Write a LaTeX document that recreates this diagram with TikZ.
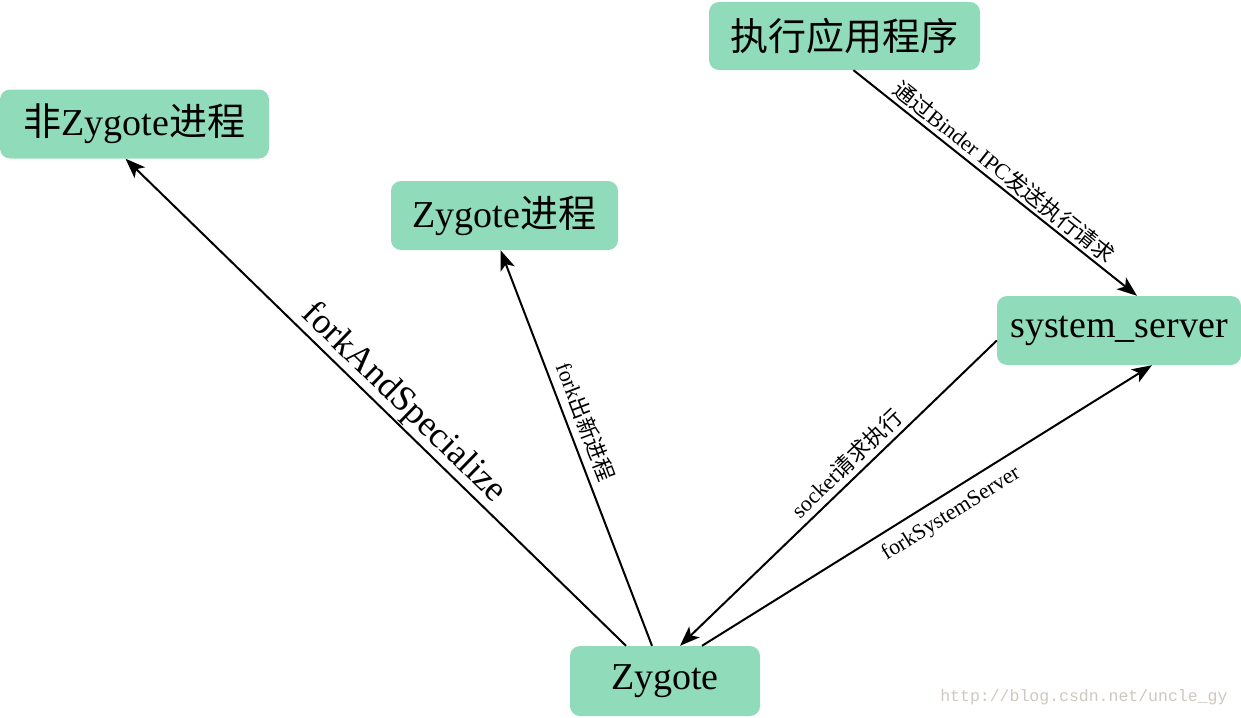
\documentclass[tikz,border=0pt]{standalone}
\usepackage{fontspec}
\setmainfont{Liberation Serif}
\newfontfamily\cjk{Noto Sans CJK SC}
\newfontfamily\wmfont{Liberation Mono}
\newcommand{\zh}[1]{{\cjk #1}}
\usetikzlibrary{arrows.meta}
\definecolor{mint}{RGB}{144,219,186}
\definecolor{wmgray}{RGB}{205,200,192}

\begin{document}
\begin{tikzpicture}[x=1pt, y=-1pt,
    box/.style={fill=mint, rounded corners=10pt, inner sep=0pt, minimum height=69,
        font=\fontsize{38}{44}\selectfont},
    link/.style={line width=2pt, -{Stealth[length=20pt, width=15pt, inset=5pt]}},
    lbl/.style={sloped, font=\fontsize{22}{26}\selectfont, inner sep=2pt}]
    \useasboundingbox (0,0) rectangle (1241,717);

    % --- 进程节点 ---
    \node[box, minimum width=269] (nonzyg) at (134.5,124) {\zh{非}Zygote\zh{进程}};
    \node[box, minimum width=227] (zygproc) at (504.5,215.5) {Zygote\zh{进程}};
    \node[box, minimum width=271, minimum height=68] (app) at (844.5,36) {\zh{执行应用程序}};
    \node[box, minimum width=244] (sys) at (1119,330.5) {system\_server};
    \node[box, minimum width=190, minimum height=70] (zyg) at (665,681) {Zygote};

    % --- 从 Zygote 出发的连线 ---
    \draw[link] ([xshift=-39]zyg.north) -- node[lbl, above, pos=0.47, inner sep=1pt,
        font=\fontsize{36}{40}\selectfont] {forkAndSpecialize} ([xshift=-9]nonzyg.south);
    \draw[link] ([xshift=-13]zyg.north) -- node[lbl, above, pos=0.55, inner sep=7pt] {fork\zh{出新进程}} ([xshift=-4]zygproc.south);
    \draw[link] ([xshift=37]zyg.north) -- node[lbl, below, pos=0.53, inner sep=9pt] {forkSystemServer} ([xshift=33]sys.south);

    % --- 请求执行 ---
    \draw[link] ([xshift=9]app.south) -- node[lbl, above, pos=0.5, inner sep=3pt] {\zh{通过}Binder IPC\zh{发送执行请求}} ([xshift=18]sys.north);
    \draw[link] ([yshift=-10]sys.west) -- node[lbl, above, pos=0.44, inner sep=5pt] {socket\zh{请求执行}} ([xshift=15]zyg.north);

    % 水印
    \node[wmgray, font=\wmfont\fontsize{16.5}{18}\selectfont, anchor=base east] (wm) at (1231,701) {http://blog.csdn.net/uncle\_gy};
\end{tikzpicture}
\end{document}
